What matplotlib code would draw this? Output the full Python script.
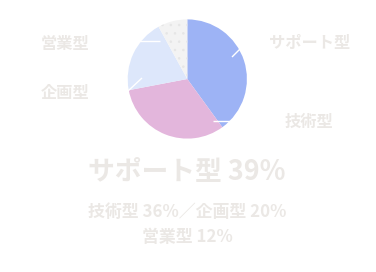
import matplotlib
matplotlib.use("Agg")
import matplotlib.pyplot as plt

categories = ["サポート型", "技術型", "企画型", "営業型"]
slice_values = [40, 32, 20, 8]
colors = ["#9db3f5", "#e3b6dc", "#dde7fb", "#f3f3f3"]
title_text = "サポート型 39%"
sub_line1 = "技術型 36%／企画型 20%"
sub_line2 = "営業型 12%"

plt.rcParams['font.family'] = ['Noto Sans CJK JP', 'DejaVu Sans']
plt.rcParams['hatch.linewidth'] = 0.6
W, H = 376, 272
fig = plt.figure(figsize=(W/100, H/100), dpi=100)
fig.patch.set_facecolor('white')
ax = fig.add_axes([0, 0, 1, 1])

cx, cy, r = 187.3, H - 79, 59.6
wedges, _ = ax.pie(slice_values, colors=colors, startangle=90, counterclock=False,
                   center=(cx, cy), radius=r, frame=True,
                   wedgeprops=dict(linewidth=0))
wedges[3].set_hatch('..')
wedges[3].set_edgecolor('#e6e6e6')
wedges[3].set_linewidth(0)
ax.set_xlim(0, W)
ax.set_ylim(0, H)
ax.set_aspect('equal')
ax.axis('off')

def P(x, y):
    return x, H - y

# leader lines (white)
leaders = [
    [(232, 57), (247, 42), (262, 42)],
    [(213, 121), (229, 121), (280, 121)],
    [(160, 41), (140, 41), (98, 41)],
    [(142, 78), (128, 91), (98, 91)],
]
for pts in leaders:
    xs = [p[0] for p in pts]
    ys = [H - p[1] for p in pts]
    ax.plot(xs, ys, color='white', lw=1.0, zorder=5, solid_capstyle='butt')

tc = '#ebe8e5'
labels_pos = {"サポート型": (310, 43), "技術型": (309, 122), "企画型": (65, 93), "営業型": (65, 44)}
for name, (x, y) in labels_pos.items():
    ax.text(*P(x, y), name, ha='center', va='center', fontsize=11.7, fontweight='bold', color=tc)

ax.text(*P(187, 171), title_text, ha='center', va='center', fontsize=19.3, fontweight='bold', color=tc)
ax.text(*P(187, 212), sub_line1, ha='center', va='center', fontsize=12.2, fontweight='bold', color=tc)
ax.text(*P(187, 237), sub_line2, ha='center', va='center', fontsize=12.2, fontweight='bold', color=tc)

fig.savefig("out.png", dpi=100, facecolor='white')
